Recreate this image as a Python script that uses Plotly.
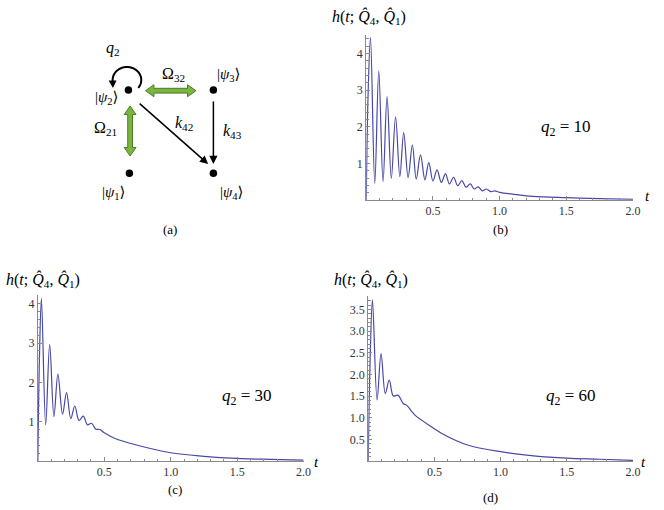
import math
import plotly.graph_objects as go

W, H = 664, 510

# ---------------- data ----------------
t_b = [0, 0.014, 0.032, 0.064, 0.094, 0.126, 0.156, 0.188, 0.22, 0.252, 0.281, 0.314,
       0.346, 0.375, 0.407, 0.44, 0.469, 0.5, 0.531, 0.563, 0.594, 0.624, 0.655, 0.686,
       0.717, 0.748, 0.78, 0.81, 0.84, 0.87, 0.9, 0.933, 0.964, 1.0, 1.13, 1.25, 1.5, 1.75, 2.0]
h_b = [0, 2.9, 4.43, 0.45, 3.52, 0.5, 2.82, 0.59, 2.27, 0.64, 1.84, 0.61,
       1.5, 0.57, 1.23, 0.55, 1.02, 0.52, 0.82, 0.48, 0.71, 0.44, 0.62, 0.39,
       0.53, 0.35, 0.44, 0.3, 0.36, 0.25, 0.3, 0.23, 0.25, 0.21, 0.145, 0.1, 0.065, 0.04, 0.02]

t_c = [0, 0.012, 0.027, 0.059, 0.089, 0.121, 0.151, 0.186, 0.216, 0.248, 0.278, 0.31,
       0.342, 0.374, 0.404, 0.436, 0.466, 0.5, 0.577, 0.75, 1.0, 1.25, 1.5, 1.75, 2.0]
h_c = [0, 2.6, 4.14, 0.92, 2.97, 1.13, 2.21, 1.19, 1.74, 1.08, 1.40, 1.03,
       1.14, 0.92, 0.96, 0.81, 0.8, 0.72, 0.58, 0.4, 0.21, 0.12, 0.065, 0.04, 0.02]

t_d = [0, 0.015, 0.032, 0.067, 0.097, 0.129, 0.159, 0.19, 0.224, 0.266, 0.29, 0.33,
       0.353, 0.478, 0.577, 0.75, 1.0, 1.25, 1.5, 1.75, 2.0]
h_d = [0, 2.4, 3.72, 1.41, 2.48, 1.56, 1.87, 1.5, 1.52, 1.32, 1.29, 1.14,
       1.06, 0.79, 0.6, 0.37, 0.215, 0.12, 0.065, 0.04, 0.015]

x_tickvals = [0.5, 1.0, 1.5, 2.0]
x_ticktext = ["0.5", "1.0", "1.5", "2.0"]
y_tickvals_bc = [1, 2, 3, 4]
y_ticktext_bc = ["1", "2", "3", "4"]
y_tickvals_d = [0.5, 1.0, 1.5, 2.0, 2.5, 3.0, 3.5]
y_ticktext_d = ["0.5", "1.0", "1.5", "2.0", "2.5", "3.0", "3.5"]
q2_values = ["10", "30", "60"]
panel_labels = ["(a)", "(b)", "(c)", "(d)"]

# ---------------- layout helpers ----------------
def px(x):
    return x / W

def py(y):
    return 1 - y / H

SERIF = "Liberation Serif, Times New Roman, DejaVu Serif, serif"
CURVE = "rgb(72,72,165)"
AXC = "#8a8a8a"

fig = go.Figure()

panels = [
    dict(t=t_b, h=h_b, xa="x", ya="y", L=370.7, R=640.7, B=200, T=35, ymax=4.5,
         yv=y_tickvals_bc, yt=y_ticktext_bc, ymin_dt=0.2),
    dict(t=t_c, h=h_c, xa="x2", ya="y2", L=38.3, R=307.3, B=461, T=295, ymax=4.224,
         yv=y_tickvals_bc, yt=y_ticktext_bc, ymin_dt=0.2),
    dict(t=t_d, h=h_d, xa="x3", ya="y3", L=372.7, R=640.7, B=461, T=296, ymax=3.81,
         yv=y_tickvals_d, yt=y_ticktext_d, ymin_dt=0.1),
]

layout_axes = {}
for i, p in enumerate(panels):
    fig.add_trace(go.Scatter(x=p["t"], y=p["h"], mode="lines", xaxis=p["xa"], yaxis=p["ya"],
                             line=dict(color=CURVE, width=1.2, shape="spline", smoothing=1.0),
                             hoverinfo="skip", showlegend=False))
    xname = "xaxis" if i == 0 else f"xaxis{i+1}"
    yname = "yaxis" if i == 0 else f"yaxis{i+1}"
    common = dict(showline=True, linecolor=AXC, linewidth=1, ticks="inside", ticklen=4,
                  tickcolor=AXC, tickwidth=1, showgrid=False, zeroline=False,
                  tickfont=dict(family=SERIF, size=12, color="#333"))
    layout_axes[xname] = dict(common, domain=[px(p["L"]), px(p["R"])], range=[0, 2.0],
                              anchor=p["ya"], tickmode="array", tickvals=x_tickvals,
                              ticktext=x_ticktext,
                              minor=dict(tickmode="linear", tick0=0, dtick=0.1,
                                         ticks="inside", ticklen=2.5, tickcolor=AXC))
    layout_axes[yname] = dict(common, domain=[py(p["B"]), py(p["T"])], range=[0, p["ymax"]],
                              anchor=p["xa"], tickmode="array", tickvals=p["yv"],
                              ticktext=p["yt"],
                              minor=dict(tickmode="linear", tick0=0, dtick=p["ymin_dt"],
                                         ticks="inside", ticklen=2.5, tickcolor=AXC))

annotations = []

def text(x, y, s, size=14, **kw):
    annotations.append(dict(x=px(x), y=py(y), xref="paper", yref="paper", text=s,
                            showarrow=False, xanchor="center", yanchor="middle",
                            font=dict(family=SERIF, size=size, color="black"), **kw))

# axis titles / labels
ylab = "<i>h</i>(<i>t</i>; <i>Q&#770;</i><sub>4</sub>, <i>Q&#770;</i><sub>1</sub>)"
text(373.5, 17, ylab, 16)
text(43.5, 280, ylab, 16)
text(375.5, 280, ylab, 16)
text(655, 196, "<i>t</i>", 15)
text(320, 462, "<i>t</i>", 15)
text(651, 462, "<i>t</i>", 15)
text(573, 128, "<i>q</i><sub>2</sub> = " + q2_values[0], 17)
text(250, 397, "<i>q</i><sub>2</sub> = " + q2_values[1], 17)
text(578, 397, "<i>q</i><sub>2</sub> = " + q2_values[2], 17)
text(172, 230, panel_labels[0], 13)
text(506.7, 230, panel_labels[1], 13)
text(176.7, 489, panel_labels[2], 13)
text(496.7, 497, panel_labels[3], 13)

# ---------------- diagram (a) ----------------
shapes = []
nodes = {"1": (131, 173.3), "2": (130, 90), "3": (216, 90), "4": (216, 173.3)}
r = 3.8
for k, (cx, cy) in nodes.items():
    shapes.append(dict(type="circle", xref="paper", yref="paper",
                       x0=px(cx - r), x1=px(cx + r), y0=py(cy + r), y1=py(cy - r),
                       fillcolor="black", line=dict(width=0)))

text(107.5, 98.5, "|<i>ψ</i><sub>2</sub>⟩", 15)
text(231, 75, "|<i>ψ</i><sub>3</sub>⟩", 15)
text(115, 193, "|<i>ψ</i><sub>1</sub>⟩", 15)
text(234, 193, "|<i>ψ</i><sub>4</sub>⟩", 15)
text(114, 48, "<i>q</i><sub>2</sub>", 16)
text(175.7, 74, "Ω<sub>32</sub>", 16)
text(106.7, 128.3, "Ω<sub>21</sub>", 16)
text(186.7, 123.3, "<i>k</i><sub>42</sub>", 16)
text(235, 131, "<i>k</i><sub>43</sub>", 16)

def path(pts):
    s = "M " + " L ".join(f"{px(x):.5f},{py(y):.5f}" for x, y in pts) + " Z"
    return s

def double_arrow(x1, y1, x2, y2, sw=2.4, hw=6.0, hl=8.5):
    L = math.hypot(x2 - x1, y2 - y1)
    ux, uy = (x2 - x1) / L, (y2 - y1) / L
    nx, ny = -uy, ux
    def P(s, n):
        return (x1 + ux * s + nx * n, y1 + uy * s + ny * n)
    pts = [P(0, 0), P(hl, -hw), P(hl, -sw), P(L - hl, -sw), P(L - hl, -hw), P(L, 0),
           P(L - hl, hw), P(L - hl, sw), P(hl, sw), P(hl, hw)]
    return dict(type="path", xref="paper", yref="paper", path=path(pts),
                fillcolor="rgb(122,182,62)", line=dict(color="rgb(78,120,40)", width=1))

shapes.append(double_arrow(147.3, 90.7, 198.3, 90.7))
shapes.append(double_arrow(131.7, 106, 131.7, 156))

# loop arrow around |psi2>
cxl, cyl, rx, ry = 128.5, 80.0, 14.5, 13.0
pts = []
a0, a1 = math.radians(-38), math.radians(185)
n = 40
for i in range(n + 1):
    a = a0 + (a1 - a0) * i / n
    pts.append((cxl + rx * math.cos(a), cyl - ry * math.sin(a)))
shapes.append(dict(type="path", xref="paper", yref="paper",
                   path="M " + " L ".join(f"{px(x):.5f},{py(y):.5f}" for x, y in pts),
                   line=dict(color="black", width=2)))
hx, hy = cxl - rx, cyl + 1.5
shapes.append(dict(type="path", xref="paper", yref="paper",
                   path=path([(hx - 4, hy - 1), (hx + 4, hy - 1), (hx + 0.3, hy + 6.5)]),
                   fillcolor="black", line=dict(width=0)))

# black transfer arrows
for (tx, ty), (hx2, hy2) in [((140.7, 102.3), (210.7, 164)), ((216, 100), (216, 164))]:
    annotations.append(dict(x=px(hx2), y=py(hy2), xref="paper", yref="paper",
                            ax=tx - hx2, ay=ty - hy2, axref="pixel", ayref="pixel",
                            showarrow=True, arrowhead=2, arrowsize=1.1, arrowwidth=1.5,
                            arrowcolor="black", text=""))

fig.update_layout(width=W, height=H, margin=dict(l=0, r=0, t=0, b=0),
                  paper_bgcolor="white", plot_bgcolor="rgba(0,0,0,0)",
                  font=dict(family=SERIF),
                  annotations=annotations, shapes=shapes, showlegend=False,
                  **layout_axes)

fig.write_html("out.html", config={"displayModeBar": False, "staticPlot": True},
               post_script="document.body.style.margin='0';document.body.style.overflow='hidden';")
